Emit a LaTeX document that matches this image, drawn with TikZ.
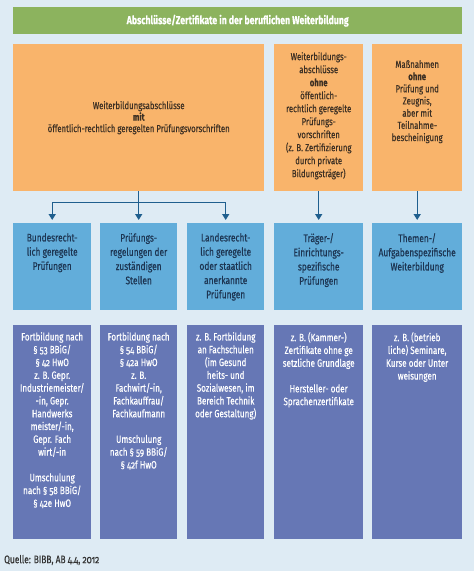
\documentclass[tikz,border=0pt]{standalone}
\usepackage{fontspec}
\usetikzlibrary{arrows.meta}
\setmainfont{Fira Sans}[FakeStretch=0.76, FakeBold=0.5, Numbers=OldStyle]
\definecolor{bgc}{HTML}{DEEBF4}
\definecolor{titlegreen}{HTML}{8CB35E}
\definecolor{orangebox}{HTML}{F9B46B}
\definecolor{skybox}{HTML}{62ADDA}
\definecolor{darkbox}{HTML}{6677B5}
\definecolor{conncol}{HTML}{1F5F8E}
\definecolor{browntext}{HTML}{3D3024}
\definecolor{navytext}{HTML}{1D3552}
\definecolor{srctext}{HTML}{333333}
\begin{document}
\begin{tikzpicture}[x=1pt,y=-1pt,
  boxbase/.style={draw=none, inner sep=0pt, anchor=north west},
  orangecell/.style={boxbase, fill=orangebox},
  skycell/.style={boxbase, fill=skybox, minimum height=87pt},
  darkcell/.style={boxbase, fill=darkbox, minimum height=214pt},
  orangetext/.style={inner sep=0pt, anchor=north, align=center, text=browntext, font=\fontsize{10.2}{13}\selectfont},
  skytext/.style={inner sep=0pt, anchor=north, align=center, text=navytext, font=\fontsize{11}{14.2}\selectfont},
  darktext/.style={inner sep=0pt, anchor=north, align=center, text=white, font=\fontsize{10.6}{12.8}\selectfont},
  conn/.style={draw=conncol, line width=1.4pt},
  arr/.style={conn, -{Triangle[length=6pt,width=7pt]}, shorten >=3pt}
]
\fill[bgc] (0,0) rectangle (474,571);
\useasboundingbox (0,0) rectangle (474,571);

% title
\node[boxbase, fill=titlegreen, minimum width=449pt, minimum height=27pt, text=white, font=\bfseries\fontsize{11.5}{13}\selectfont] (title) at (13,7) {Abschlüsse/Zertifikate in der beruflichen Weiterbildung};

% orange row
\node[orangecell, minimum width=251pt, minimum height=147pt, align=center, text=browntext, font=\fontsize{10.2}{11.5}\selectfont] (oA) at (13,44) {Weiterbildungsabschlüsse\\\textbf{mit}\\öffentlich-rechtlich geregelten Prüfungsvorschriften};
\node[orangecell, minimum width=89pt, minimum height=147pt] (oB) at (274,44) {};
\node[orangecell, minimum width=90pt, minimum height=147pt] (oC) at (372,44) {};
\node[orangetext] (oBt) at ([yshift=-8pt]oB.north) {Weiterbildungs-\\abschlüsse\\\textbf{ohne}\\öffentlich-\\rechtlich geregelte\\Prüfungs-\\vorschriften\\(z. B. Zertifizierung\\durch private\\Bildungsträger)};
\node[orangetext, font=\fontsize{10.2}{12.2}\selectfont] (oCt) at ([yshift=-16pt]oC.north) {Maßnahmen\\\textbf{ohne}\\Prüfung und\\Zeugnis,\\aber mit\\Teilnahme-\\bescheinigung};

% sky row
\node[skycell, minimum width=78pt] (b1) at (13,223) {};
\node[skycell, minimum width=77pt] (b2) at (100,223) {};
\node[skycell, minimum width=77pt] (b3) at (187,223) {};
\node[skycell, minimum width=89pt] (b4) at (274,223) {};
\node[skycell, minimum width=90pt] (b5) at (372,223) {};
\node[skytext] (b1t) at ([yshift=-10pt]b1.north) {Bundesrecht-\\lich geregelte\\Prüfungen};
\node[skytext] (b2t) at ([yshift=-10pt]b2.north) {Prüfungs-\\regelungen der\\zuständigen\\Stellen};
\node[skytext] (b3t) at ([yshift=-10pt]b3.north) {Landesrecht-\\lich geregelte\\oder staatlich\\anerkannte\\Prüfungen};
\node[skytext] (b4t) at ([yshift=-10pt]b4.north) {Träger-/\\Einrichtungs-\\spezifische\\Prüfungen};
\node[skytext] (b5t) at ([yshift=-10pt]b5.north) {Themen-/\\Aufgabenspezifische\\Weiterbildung};

% dark row
\node[darkcell, minimum width=78pt] (d1) at (13,325) {};
\node[darkcell, minimum width=77pt] (d2) at (100,325) {};
\node[darkcell, minimum width=77pt] (d3) at (187,325) {};
\node[darkcell, minimum width=89pt] (d4) at (274,325) {};
\node[darkcell, minimum width=90pt] (d5) at (372,325) {};
\node[darktext] (d1t) at ([yshift=-7pt]d1.north) {Fortbildung nach\\§ 53 BBiG/\\§ 42 HwO\\z. B. Gepr.\\Industriemeister/\\-in, Gepr.\\Handwerks\\meister/-in,\\Gepr. Fach\\wirt/-in\\[12.8pt]Umschulung\\nach § 58 BBiG/\\§ 42e HwO};
\node[darktext] (d2t) at ([yshift=-7pt]d2.north) {Fortbildung nach\\§ 54 BBiG/\\§ 42a HwO\\z. B.\\Fachwirt/-in,\\Fachkauffrau/\\Fachkaufmann\\[12.8pt]Umschulung\\nach § 59 BBiG/\\§ 42f HwO};
\node[darktext] (d3t) at ([yshift=-7pt]d3.north) {z. B. Fortbildung\\an Fachschulen\\(im Gesund\\heits- und\\Sozialwesen, im\\Bereich Technik\\oder Gestaltung)};
\node[darktext] (d4t) at ([yshift=-7pt]d4.north) {z. B. (Kammer-)\\Zertifikate ohne ge\\setzliche Grundlage\\[12.8pt]Hersteller- oder\\Sprachenzertifikate};
\node[darktext] (d5t) at ([yshift=-7pt]d5.north) {z. B. (betrieb\\liche) Seminare,\\Kurse oder Unter\\weisungen};

% connectors
\draw[conn] (oA.south) -- ++(0,11) coordinate (jA);
\draw[arr] (jA) -| (b1.north);
\draw[arr] (jA) -- (b2.north);
\draw[arr] (jA) -| (b3.north);
\draw[arr] (oB.south) -- (b4.north);
\draw[arr] (oC.south) -- (b5.north);

% source
\node[inner sep=0pt, anchor=west, text=srctext, font=\fontsize{11}{13}\selectfont] (src) at (4,560) {Quelle: BIBB, AB 4.4, 2012};
\end{tikzpicture}
\end{document}
